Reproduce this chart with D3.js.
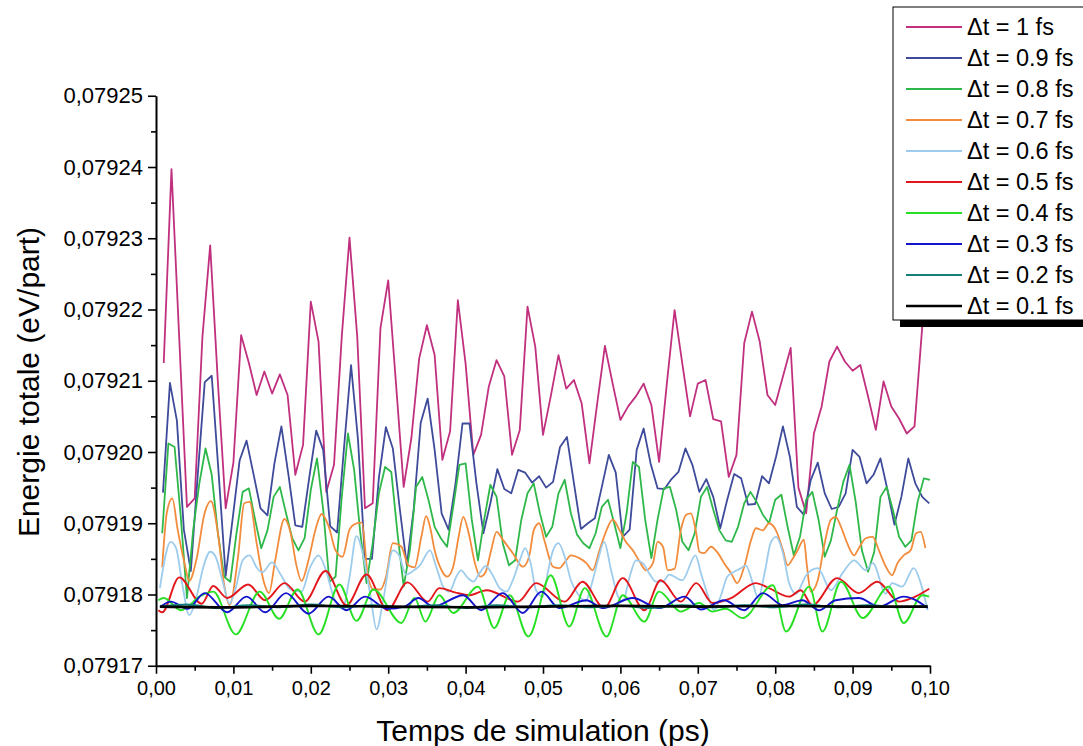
<!DOCTYPE html>
<html><head><meta charset="utf-8">
<script src="https://cdn.jsdelivr.net/npm/d3@7"></script>
<style>
body{margin:0;background:#fff}
svg{display:block}
text{font-family:"Liberation Sans",Arial,sans-serif;fill:#000}
</style>
</head><body>
<svg id="chart" width="1083" height="746"></svg>
<script>
// ---------- DATA ----------
// energies are stored as offsets above E0 in units of dE (eV/part)
const E0 = 0.07917, dE = 1e-5;
const xTicks = [0,0.01,0.02,0.03,0.04,0.05,0.06,0.07,0.08,0.09,0.10];
const xMinor = [0.005,0.015,0.025,0.035,0.045,0.055,0.065,0.075,0.085,0.095];
const yTicks = [0.07917,0.07918,0.07919,0.07920,0.07921,0.07922,0.07923,0.07924,0.07925];
const yMinor = [0.079175,0.079185,0.079195,0.079205,0.079215,0.079225,0.079235,0.079245];
const seriesNames = ["Δt = 1 fs","Δt = 0.9 fs","Δt = 0.8 fs","Δt = 0.7 fs","Δt = 0.6 fs","Δt = 0.5 fs","Δt = 0.4 fs","Δt = 0.3 fs","Δt = 0.2 fs","Δt = 0.1 fs"];
const seriesColors = ["#c0307f","#3e4a9a","#2fb84a","#f28c3c","#9dccec","#e3161b","#27e024","#1414cc","#137f78","#000000"];
const timeSteps = [0.001,0.0009,0.0008]; // ps, one stored value per step for the three coarse series

const e1fs = [4.25,6.97,4.6,2.23,2.35,4.62,5.9,3.97,2.21,2.85,
 4.64,4.25,3.8,4.13,3.82,4.09,3.8,2.68,3.1,5.11,
 4.55,2.44,2.82,4.62,6.01,4.62,2.21,2.28,4.74,5.41,
 3.97,2.51,3.2,4.31,4.78,4.36,2.89,3.29,5.13,4.24,
 2.96,3.24,3.92,4.29,4.06,2.96,3.31,5.04,4.48,3.24,
 3.78,4.36,3.89,4.01,3.68,2.84,3.68,4.49,3.96,3.45,
 3.64,3.78,3.96,3.66,2.86,3.96,4.99,4.24,3.5,3.96,
 4.01,3.46,3.43,2.65,2.96,4.53,4.97,4.55,3.8,3.66,
 4.06,4.46,2.5,2.14,3.26,3.64,4.27,4.48,4.27,4.14,
 4.22,3.78,3.31,3.99,3.64,3.47,3.26,3.36,4.76,5.6];

const e09fs = [2.43,3.97,3.44,1.91,1.33,2.69,3.98,4.07,2.69,1.26,
 2.06,2.88,3.16,2.69,2.21,2.11,2.84,3.36,2.69,1.97,
 1.95,2.64,3.3,3.03,1.96,1.87,3.07,4.22,3.17,1.5,
 1.5,2.64,3.35,3.05,2.2,1.41,2.2,3.41,3.75,3.03,
 2.14,1.91,2.56,3.40,3.40,2.56,1.86,2.28,2.76,2.48,
 2.42,2.75,2.71,2.57,2.66,2.5,2.58,3.07,3.21,2.56,
 1.92,2.0,2.07,2.51,2.96,2.71,1.81,1.91,3.03,3.33,
 2.84,2.49,2.48,2.62,2.72,3.05,2.82,2.44,2.62,2.37,
 1.93,2.33,2.69,2.63,2.26,2.27,2.66,2.56,2.93,3.36,
 2.93,2.23,2.12,2.61,2.85,2.42,2.2,2.23,2.42,3.03,
 2.93,2.56,2.68,2.91,2.47,1.98,2.37,2.91,2.56,2.37,2.28];

const e08fs = [1.86,3.12,3.07,2.09,0.95,1.9,2.56,3.05,2.68,1.86,
 1.25,1.18,1.86,2.44,2.49,2.05,1.65,1.9,2.37,2.51,
 2.14,1.79,1.62,1.79,2.47,2.91,2.19,1.18,1.25,2.37,
 3.26,2.75,1.86,1.16,1.72,2.42,2.79,2.72,1.86,1.11,
 1.62,2.51,2.65,2.33,1.95,1.79,1.67,2.23,2.82,2.84,
 2.05,1.48,2.05,2.54,2.37,1.72,1.41,1.48,2.05,2.42,
 2.56,2.14,1.81,1.95,2.42,2.61,2.14,1.84,1.72,1.65,
 1.86,2.23,2.33,2.0,1.65,2.14,2.86,2.79,2.05,1.51,
 2.05,2.49,2.51,2.19,1.74,1.62,1.86,2.37,2.51,2.19,
 1.9,1.76,1.74,1.95,2.28,2.44,2.3,2.12,2.0,2.33,
 2.4,1.95,1.55,1.81,2.33,2.44,2.05,1.53,1.76,2.19,
 2.58,2.82,2.3,1.62,1.32,1.6,2.37,2.51,2.19,1.81,
 1.67,1.76,2.3,2.63,2.61];

// [time (ps), offset] pairs for the finer series
const e07fs = [[.0008,1.38],[.0014,2.15],[.0021,2.35],[.0028,1.91],[.0037,1.43],[.0043,1.19],[.0052,1.48],[.0063,2.15],[.0071,2.31],[.008,1.86],[.0088,1.14],[.0095,0.85],[.0106,1.53],[.0114,2.28],[.0121,2.3],[.013,1.72],[.0139,1.19],[.0146,1.02],[.0154,1.48],[.0166,2.06],[.0174,1.86],[.0181,1.43],[.0188,1.19],[.0197,1.48],[.0206,1.91],[.0214,2.13],[.0223,1.96],[.0232,1.62],[.0241,1.53],[.025,1.91],[.0257,1.99],[.0266,2.01],[.0274,1.24],[.0281,1.07],[.029,1.07],[.0297,1.24],[.0306,1.72],[.0317,1.67],[.0326,1.41],[.0334,1.38],[.0343,1.82],[.0349,2.1],[.0354,1.95],[.036,1.62],[.0369,1.34],[.0376,1.25],[.0384,1.39],[.0391,1.81],[.0397,2.09],[.0404,1.86],[.0412,1.44],[.0419,1.25],[.0426,1.32],[.0433,1.62],[.044,1.88],[.0448,1.77],[.0461,1.58],[.0474,1.39],[.0482,1.53],[.0488,1.9],[.0495,2.0],[.0502,1.75],[.0513,1.39],[.0521,1.37],[.053,1.48],[.0536,1.55],[.0547,1.51],[.0556,1.44],[.0564,1.34],[.0573,1.62],[.0582,1.9],[.059,2.05],[.0599,1.9],[.0607,1.74],[.0616,1.62],[.0625,1.46],[.0633,1.34],[.0642,1.44],[.0648,1.74],[.0655,1.67],[.0661,1.34],[.067,1.36],[.0678,1.9],[.0685,2.12],[.0691,2.14],[.0698,1.86],[.0702,1.6],[.0708,1.58],[.0717,1.67],[.0726,1.58],[.0734,1.44],[.0743,1.3],[.0751,1.16],[.076,1.39],[.0769,1.77],[.0775,1.93],[.0784,1.9],[.0792,2.0],[.0801,1.9],[.081,1.62],[.0816,1.41],[.0823,1.51],[.0829,1.62],[.0837,1.77],[.0841,1.4],[.0846,1.04],[.0855,1.2],[.0863,1.67],[.0872,2.05],[.0878,2.09],[.0885,1.95],[.0893,1.72],[.0902,1.55],[.0908,1.65],[.0917,1.79],[.0926,1.81],[.0934,1.62],[.0943,1.39],[.0951,1.27],[.0958,1.44],[.0966,1.55],[.0975,1.62],[.0982,1.86],[.0988,1.88],[.0994,1.65]];

const e06fs = [[.0005,1.09],[.0019,1.74],[.0026,1.65],[.0034,1.14],[.0043,0.71],[.0052,0.95],[.0061,1.38],[.007,1.6],[.0077,1.53],[.0086,1.19],[.0095,0.87],[.0103,1.09],[.0112,1.48],[.0121,1.55],[.013,1.38],[.0137,1.31],[.015,1.45],[.0161,1.28],[.0174,1.07],[.0188,1.04],[.0199,1.38],[.021,1.55],[.0219,1.36],[.023,0.95],[.0241,0.8],[.025,1.24],[.0259,1.82],[.0268,1.53],[.0277,0.99],[.0285,0.51],[.0294,0.95],[.0306,1.62],[.0314,1.55],[.0323,1.28],[.0332,1.33],[.0341,1.41],[.0354,1.62],[.0362,1.39],[.0371,1.11],[.0379,1.04],[.0388,1.25],[.0394,1.34],[.0403,1.23],[.041,1.18],[.0418,1.3],[.0426,1.4],[.0435,1.27],[.0444,1.09],[.0453,1.04],[.0461,1.2],[.047,1.48],[.0477,1.65],[.0484,1.44],[.0491,1.06],[.05,0.97],[.0506,1.3],[.0513,1.62],[.052,1.72],[.0528,1.53],[.0536,1.2],[.0545,1.01],[.0555,0.9],[.0562,1.11],[.0571,1.48],[.0579,1.74],[.0588,1.34],[.0597,0.97],[.0603,0.9],[.0612,1.25],[.062,1.48],[.0629,1.44],[.0637,1.3],[.0646,1.18],[.0655,1.18],[.0663,1.28],[.068,1.2],[.0697,1.55],[.0704,1.3],[.0713,0.99],[.0721,0.78],[.073,0.99],[.0738,1.25],[.0747,1.32],[.0756,1.37],[.0762,1.41],[.0771,1.16],[.0778,0.95],[.0787,1.34],[.0794,1.72],[.0801,1.81],[.081,1.58],[.0818,1.16],[.0827,1.01],[.0835,1.16],[.084,1.27],[.0855,1.37],[.0872,1.06],[.0887,1.3],[.0902,1.48],[.0917,1.34],[.0926,1.44],[.0943,1.01],[.0951,1.16],[.0964,1.11],[.0979,1.37],[.0988,1.16],[.0997,0.78]];

const e05fs = [[.0003,0.78],[.0008,0.75],[.003,1.24],[.0059,0.87],[.0074,1.12],[.0092,0.95],[.0119,1.14],[.0141,0.92],[.0166,1.16],[.0192,0.9],[.0219,1.33],[.0246,0.85],[.0272,1.28],[.0299,0.78],[.0325,1.17],[.0351,0.9],[.0366,1.09],[.0386,1.03],[.0405,0.99],[.0427,1.06],[.0468,0.9],[.0491,1.16],[.0528,0.9],[.0551,1.18],[.0579,0.81],[.0603,1.23],[.0631,0.78],[.0652,1.2],[.0678,0.9],[.0698,1.16],[.0719,0.88],[.0743,0.95],[.0775,1.16],[.0792,1.09],[.0818,0.97],[.0833,1.06],[.0848,0.85],[.088,1.23],[.0908,1.02],[.0932,1.18],[.096,0.9],[.0977,0.95],[.0999,1.08]];

const e04fs = [[.0003,0.92],[.001,0.95],[.0032,0.78],[.0059,0.99],[.0074,1.04],[.0103,0.44],[.0134,1.04],[.0159,0.66],[.0183,1.07],[.021,0.44],[.0237,1.14],[.0259,0.63],[.0281,1.07],[.0317,0.6],[.0334,0.95],[.0348,0.62],[.0366,0.99],[.0384,0.74],[.0416,1.11],[.0437,0.53],[.0457,0.99],[.0481,0.41],[.051,1.27],[.0534,0.55],[.0554,1.09],[.0582,0.41],[.0603,0.99],[.0631,0.62],[.065,1.04],[.0678,0.76],[.0702,0.88],[.0719,0.76],[.0736,0.8],[.0758,0.67],[.0797,1.13],[.0814,0.48],[.0844,1.11],[.0861,0.48],[.0885,1.18],[.0913,0.67],[.0947,1.11],[.0966,0.6],[.099,0.99],[.0999,0.97]];

const e03fs = [[.0006,0.83],[.0019,0.9],[.0041,0.8],[.0063,1.02],[.0092,0.75],[.0117,0.97],[.0141,0.75],[.0168,1.02],[.0197,0.73],[.0223,0.97],[.0246,0.78],[.027,0.97],[.0299,0.8],[.0321,0.83],[.0339,0.95],[.0358,0.83],[.0397,0.99],[.042,0.78],[.0448,1.02],[.0474,0.74],[.0498,1.04],[.0521,0.81],[.0556,0.92],[.0577,0.81],[.0616,0.95],[.065,0.81],[.0683,0.97],[.0704,0.79],[.0734,0.92],[.076,0.78],[.0784,1.02],[.081,0.85],[.0835,0.92],[.0857,0.78],[.0878,0.92],[.0908,0.95],[.0934,0.83],[.0966,0.97],[.0997,0.81]];

const e02fs = [[.0005,0.83],[.004,0.86],[.008,0.81],[.012,0.85],[.016,0.82],[.02,0.86],[.024,0.82],[.028,0.85],[.032,0.82],[.036,0.85],[.04,0.81],[.044,0.85],[.048,0.82],[.052,0.85],[.056,0.82],[.06,0.84],[.064,0.81],[.068,0.85],[.072,0.82],[.076,0.85],[.08,0.82],[.084,0.86],[.088,0.82],[.092,0.85],[.096,0.82],[.0997,0.84]];

const e01fs = [[.0005,0.83],[.01,0.82],[.02,0.84],[.03,0.83],[.04,0.82],[.05,0.83],[.06,0.84],[.07,0.83],[.08,0.84],[.09,0.83],[.0997,0.83]];

// ---------- BUILD ----------
const uniform = (vals, step) => vals.map((v, i) => [(i + 1) * step, E0 + v * dE]);
const paired = arr => arr.map(([t, v]) => [t, E0 + v * dE]);
const series = [
  {pts: uniform(e1fs, timeSteps[0]), curve: d3.curveLinear, w: 1.8},
  {pts: uniform(e09fs, timeSteps[1]), curve: d3.curveLinear, w: 1.8},
  {pts: uniform(e08fs, timeSteps[2]), curve: d3.curveLinear, w: 1.8},
  {pts: paired(e07fs), curve: d3.curveMonotoneX, w: 1.8},
  {pts: paired(e06fs), curve: d3.curveMonotoneX, w: 1.8},
  {pts: paired(e05fs), curve: d3.curveMonotoneX, w: 1.9},
  {pts: paired(e04fs), curve: d3.curveMonotoneX, w: 1.9},
  {pts: paired(e03fs), curve: d3.curveMonotoneX, w: 1.9},
  {pts: paired(e02fs), curve: d3.curveMonotoneX, w: 1.9},
  {pts: paired(e01fs), curve: d3.curveMonotoneX, w: 2.6}
];

const svg = d3.select("#chart");
const x = d3.scaleLinear().domain([0, 0.10]).range([156, 930]);
const y = d3.scaleLinear().domain([0.07917, 0.07925]).range([665.75, 95.75]);
const loc = d3.formatLocale({decimal: ",", thousands: " ", grouping: [3], currency: ["", " €"]});
const fx = loc.format(".2f"), fy = loc.format(".5f");

// axes
const gx = svg.append("g").attr("transform", `translate(0,${y.range()[0]})`)
  .call(d3.axisBottom(x).tickValues(xTicks).tickFormat(fx).tickSize(8).tickSizeOuter(0).tickPadding(7));
svg.append("g").attr("transform", `translate(0,${y.range()[0]})`)
  .call(d3.axisBottom(x).tickValues(xMinor).tickFormat("").tickSize(5).tickSizeOuter(0))
  .call(g => g.select(".domain").remove());
const gy = svg.append("g").attr("transform", `translate(${x.range()[0]},0)`)
  .call(d3.axisLeft(y).tickValues(yTicks).tickFormat(fy).tickSize(8).tickSizeOuter(0).tickPadding(5));
svg.append("g").attr("transform", `translate(${x.range()[0]},0)`)
  .call(d3.axisLeft(y).tickValues(yMinor).tickFormat("").tickSize(5).tickSizeOuter(0))
  .call(g => g.select(".domain").remove());
svg.selectAll(".domain").attr("stroke", "#000").attr("stroke-width", 2);
svg.selectAll(".tick line").attr("stroke", "#000").attr("stroke-width", 1.6);
gx.selectAll(".tick text").attr("font-size", 20).attr("font-family", "Liberation Sans, Arial, sans-serif");
gy.selectAll(".tick text").attr("font-size", 22).attr("font-family", "Liberation Sans, Arial, sans-serif");

// axis titles
svg.append("text").attr("x", 543).attr("y", 741).attr("text-anchor", "middle")
  .attr("font-size", 30).text("Temps de simulation (ps)");
svg.append("text").attr("transform", "translate(39,382) rotate(-90)").attr("text-anchor", "middle")
  .attr("font-size", 30).text("Energie totale (eV/part)");

// lines
const plot = svg.append("g");
series.forEach((s, i) => {
  plot.append("path").datum(s.pts)
    .attr("fill", "none").attr("stroke", seriesColors[i]).attr("stroke-width", s.w)
    .attr("stroke-linejoin", "round")
    .attr("d", d3.line().x(d => x(d[0])).y(d => y(d[1])).curve(s.curve));
});

// legend
const lg = svg.append("g");
lg.append("rect").attr("x", 900).attr("y", 320).attr("width", 200).attr("height", 7).attr("fill", "#000");
lg.append("rect").attr("x", 893).attr("y", 7).attr("width", 210).attr("height", 313)
  .attr("fill", "#fff").attr("stroke", "#000").attr("stroke-width", 1);
seriesNames.forEach((name, i) => {
  const ry = 27 + i * 31;
  lg.append("line").attr("x1", 906).attr("x2", 962).attr("y1", ry).attr("y2", ry)
    .attr("stroke", seriesColors[i]).attr("stroke-width", i === 9 ? 2.4 : 1.8);
  lg.append("text").attr("x", 967).attr("y", ry + 8).attr("font-size", 23.5).text(name);
});
</script>
</body></html>
